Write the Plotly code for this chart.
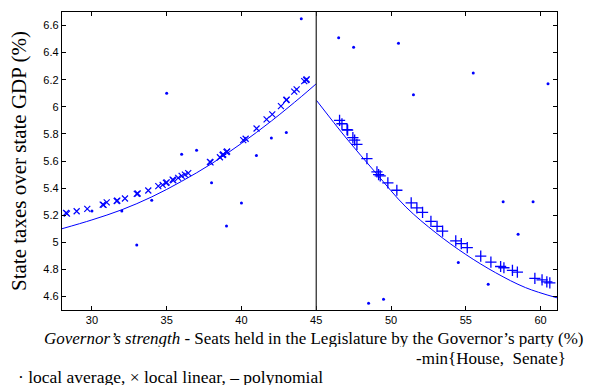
import plotly.graph_objects as go

# ---- data ----
left_avg_x = [30, 32, 33, 34, 35, 36, 37, 38, 39, 40, 41, 42, 43, 44]
left_avg_y = [5.23, 5.23, 4.98, 5.31, 6.10, 5.65, 5.68, 5.44, 5.12, 5.29, 5.64, 5.77, 5.81, 6.65]

right_avg_x = [46.5, 47.5, 48.5, 49.5, 50.5, 51.5, 54.5, 55.5, 56.5, 57.5, 58.5, 59.5, 60.5]
right_avg_y = [6.51, 6.44, 4.55, 4.58, 6.47, 6.09, 4.85, 6.25, 4.69, 5.30, 5.06, 5.30, 6.17]

left_lin_x = [28.27, 28.33, 28.98, 29.69, 30.72, 30.78, 30.99, 31.66, 31.70, 32.21,
              33.00, 33.06, 33.77, 34.44, 34.73, 34.95, 35.00, 35.40, 35.44, 35.77,
              36.00, 36.22, 36.44, 37.89, 37.93, 38.56, 38.74, 38.78, 39.00, 39.04,
              40.12, 40.28, 41.01, 41.68, 42.06, 42.64, 43.00, 43.02, 43.53, 43.69,
              44.20, 44.33, 44.36]
left_lin_y = [5.217, 5.212, 5.229, 5.247, 5.278, 5.276, 5.295, 5.305, 5.308, 5.323,
              5.357, 5.360, 5.382, 5.414, 5.424, 5.439, 5.442, 5.462, 5.458, 5.476,
              5.490, 5.500, 5.510, 5.594, 5.590, 5.628, 5.644, 5.648, 5.665, 5.670,
              5.754, 5.764, 5.840, 5.907, 5.944, 6.005, 6.050, 6.053, 6.112, 6.129,
              6.190, 6.198, 6.203]

right_lin_x = [46.56, 46.72, 47.06, 47.10, 47.45, 47.57, 47.72, 48.39, 49.06, 49.17,
               49.28, 49.79, 50.39, 51.35, 51.73, 52.11, 52.67, 53.08, 53.45, 54.33,
               54.70, 55.10, 56.00, 56.68, 57.33, 57.55, 58.12, 58.45, 59.62, 60.10,
               60.42, 60.62]
right_lin_y = [5.900, 5.875, 5.832, 5.828, 5.772, 5.754, 5.722, 5.618, 5.520, 5.500,
               5.490, 5.439, 5.384, 5.291, 5.254, 5.221, 5.155, 5.118, 5.083, 5.010,
               4.990, 4.960, 4.898, 4.854, 4.821, 4.812, 4.792, 4.780, 4.733, 4.722,
               4.707, 4.700]

left_poly_x = [28, 30, 32, 34, 36, 38, 40, 42, 44, 45]
left_poly_y = [5.10, 5.165, 5.24, 5.335, 5.45, 5.58, 5.73, 5.895, 6.075, 6.17]
right_poly_x = [45, 47, 49, 51, 53, 55, 57, 59, 61.1]
right_poly_y = [6.05, 5.77, 5.51, 5.26, 5.07, 4.91, 4.775, 4.665, 4.59]

x_ticks = [30, 35, 40, 45, 50, 55, 60]
y_ticks = [4.6, 4.8, 5.0, 5.2, 5.4, 5.6, 5.8, 6.0, 6.2, 6.4, 6.6]
y_tick_text = ["4.6", "4.8", "5", "5.2", "5.4", "5.6", "5.8", "6", "6.2", "6.4", "6.6"]

BLUE = "#0000ff"
SERIF = "Liberation Serif, Times New Roman, serif"
SANS = "Liberation Sans, Arial, sans-serif"

fig = go.Figure()

for px_, py_ in [(left_poly_x, left_poly_y), (right_poly_x, right_poly_y)]:
    fig.add_trace(go.Scatter(x=px_, y=py_, mode="lines", line=dict(color=BLUE, width=1, shape="spline"),
                             hoverinfo="skip"))

fig.add_trace(go.Scatter(x=left_avg_x + right_avg_x, y=left_avg_y + right_avg_y, mode="markers",
                         marker=dict(symbol="circle", size=3, color=BLUE)))
fig.add_trace(go.Scatter(x=left_lin_x, y=left_lin_y, mode="markers",
                         marker=dict(symbol="x-thin", size=6, line=dict(color=BLUE, width=1.2))))
fig.add_trace(go.Scatter(x=right_lin_x, y=right_lin_y, mode="markers",
                         marker=dict(symbol="cross-thin", size=8, line=dict(color=BLUE, width=1.3))))

fig.add_shape(type="line", xref="x", yref="paper", x0=45, x1=45, y0=0, y1=1,
              line=dict(color="#222222", width=1.2))

axis_common = dict(showgrid=False, zeroline=False, showline=True, linecolor="black", linewidth=1.3,
                   mirror="ticks", ticks="inside", ticklen=4, tickcolor="black", tickwidth=1,
                   tickfont=dict(family=SANS, size=11, color="black"))

fig.update_xaxes(range=[28, 61.1], tickvals=x_ticks, **axis_common)
fig.update_yaxes(range=[4.5, 6.7], tickvals=y_ticks, ticktext=y_tick_text, **axis_common)

fig.update_layout(
    width=589, height=385, showlegend=False,
    margin=dict(l=62, r=32, t=12, b=75),
    paper_bgcolor="white", plot_bgcolor="white",
    annotations=[
        dict(text="State taxes over state GDP (%)", xref="paper", yref="paper", x=0, y=0.5,
             xanchor="center", yanchor="middle", textangle=-90, showarrow=False,
             font=dict(family=SERIF, size=21, color="black"), xshift=-43, yshift=0),
        dict(text="<i>Governor’s strength</i> - Seats held in the Legislature by the Governor’s party (%)",
             xref="paper", yref="paper", x=1, y=0, xanchor="right", yanchor="middle", showarrow=False,
             height=17, xshift=29, yshift=-28, font=dict(family=SERIF, size=17, color="black")),
        dict(text="-min{House,  Senate}", xref="paper", yref="paper", x=1, y=0,
             xanchor="right", yanchor="middle", showarrow=False, height=17, xshift=11, yshift=-48,
             font=dict(family=SERIF, size=17, color="black")),
        dict(text="· local average, × local linear, – polynomial", xref="paper", yref="paper",
             x=0, y=0, xanchor="left", yanchor="middle", showarrow=False, height=17,
             xshift=-46, yshift=-66, font=dict(family=SERIF, size=17.5, color="black")),
    ],
)

fig.write_html("out.html")
